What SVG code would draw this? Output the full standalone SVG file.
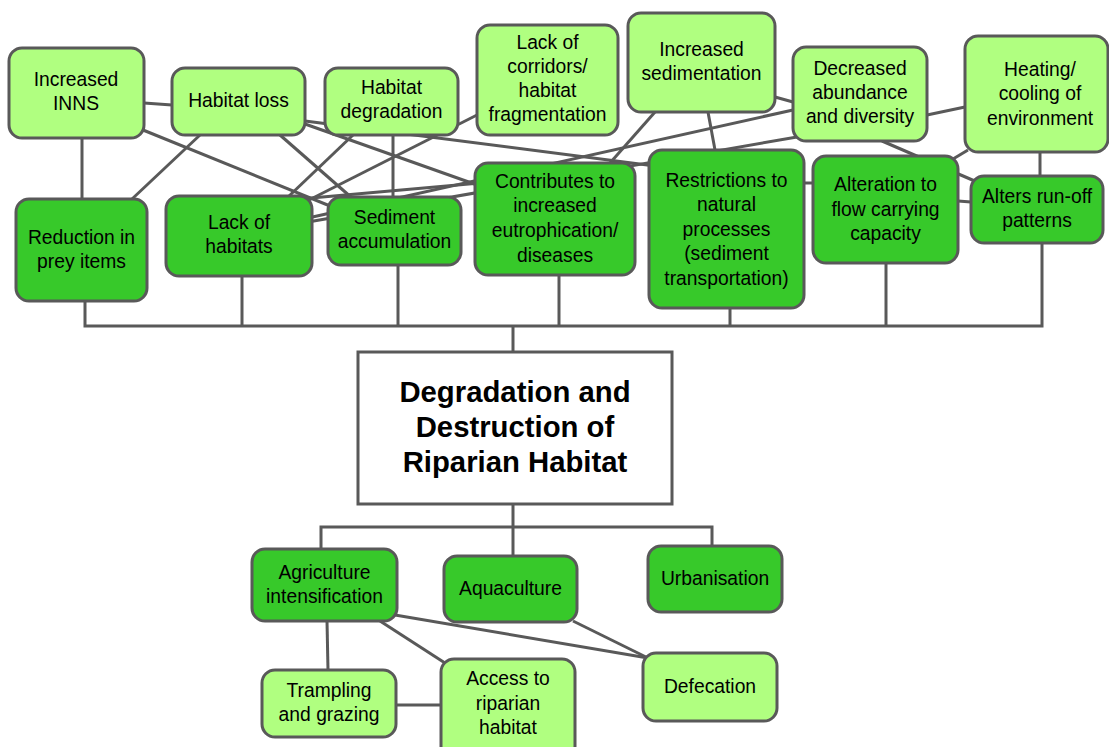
<svg xmlns="http://www.w3.org/2000/svg" width="1109" height="747" viewBox="0 0 1109 747">
<style>
.lt{fill:#b0ff80;stroke:#595959;stroke-width:3}
.dk{fill:#37c92a;stroke:#595959;stroke-width:3}
.ct{fill:#ffffff;stroke:#595959;stroke-width:3}
.c line,.c polyline{stroke:#595959;stroke-width:3;fill:none}
text{font-family:"Liberation Sans",Arial,sans-serif;font-size:19.3px;fill:#000;text-anchor:middle}
.t{font-weight:bold;font-size:29.3px}
</style>
<rect width="1109" height="747" fill="#ffffff"/>
<g id="connectors" class="c">
<line x1="144" y1="103" x2="172" y2="105"/>
<line x1="82" y1="138" x2="82" y2="199"/>
<line x1="143" y1="130" x2="335" y2="208"/>
<line x1="200" y1="135" x2="132" y2="199"/>
<line x1="280" y1="135" x2="352" y2="198"/>
<line x1="305" y1="124" x2="480" y2="186"/>
<line x1="305" y1="121" x2="655" y2="166"/>
<line x1="393" y1="135" x2="393" y2="197"/>
<line x1="353" y1="135" x2="288" y2="197"/>
<line x1="477" y1="115" x2="305" y2="202"/>
<line x1="300" y1="199" x2="480" y2="183"/>
<line x1="793" y1="110" x2="308" y2="218"/>
<line x1="797" y1="137" x2="308" y2="222"/>
<line x1="655" y1="112" x2="610" y2="163"/>
<line x1="708" y1="112" x2="715" y2="150"/>
<line x1="775" y1="97" x2="793" y2="102"/>
<line x1="927" y1="115" x2="965" y2="107"/>
<line x1="882" y1="141" x2="977" y2="182"/>
<line x1="968" y1="150" x2="953" y2="159"/>
<line x1="1040" y1="152" x2="1040" y2="176"/>
<line x1="958" y1="201" x2="971" y2="202"/>
<line x1="804" y1="183" x2="813" y2="183"/>
<polyline points="85,301 85,326 1042,326 1042,243"/>
<line x1="242" y1="276" x2="242" y2="326"/>
<line x1="398" y1="265" x2="398" y2="326"/>
<line x1="559" y1="275" x2="559" y2="326"/>
<line x1="730" y1="308" x2="730" y2="326"/>
<line x1="886" y1="263" x2="886" y2="326"/>
<line x1="513" y1="326" x2="513" y2="352"/>
<line x1="513" y1="504" x2="513" y2="556"/>
<polyline points="321,549 321,527 712,527 712,546"/>
<line x1="327" y1="621" x2="328" y2="670"/>
<line x1="380" y1="621" x2="445" y2="663"/>
<line x1="395" y1="615" x2="648" y2="658"/>
<line x1="573" y1="621" x2="648" y2="658"/>
<line x1="396" y1="705" x2="441" y2="705"/>
</g>
<g id="n-inns"><rect class="lt" x="9" y="48" width="135" height="90" rx="13"/><text x="76" y="85.5">Increased</text><text x="76" y="110">INNS</text></g>
<g id="n-habloss"><rect class="lt" x="172" y="68" width="133" height="67" rx="13"/><text x="238.5" y="106.5">Habitat loss</text></g>
<g id="n-habdeg"><rect class="lt" x="325" y="68" width="133" height="67" rx="13"/><text x="391.5" y="93.5">Habitat</text><text x="391.5" y="118">degradation</text></g>
<g id="n-corridors"><rect class="lt" x="477" y="25" width="141" height="110" rx="13"/><text x="547.5" y="48.5">Lack of</text><text x="547.5" y="72.5">corridors/</text><text x="547.5" y="96.5">habitat</text><text x="547.5" y="121">fragmentation</text></g>
<g id="n-incsed"><rect class="lt" x="628" y="13" width="147" height="99" rx="13"/><text x="701.5" y="55.5">Increased</text><text x="701.5" y="80">sedimentation</text></g>
<g id="n-decab"><rect class="lt" x="793" y="47" width="134" height="94" rx="13"/><text x="860" y="74.5">Decreased</text><text x="860" y="98.5">abundance</text><text x="860" y="123">and diversity</text></g>
<g id="n-heat"><rect class="lt" x="965" y="36" width="143" height="116" rx="13"/><text x="1040" y="75.5">Heating/</text><text x="1040" y="99.5">cooling of</text><text x="1040" y="124.5">environment</text></g>
<g id="n-prey"><rect class="dk" x="16" y="199" width="131" height="102" rx="13"/><text x="81.5" y="243.5">Reduction in</text><text x="81.5" y="268">prey items</text></g>
<g id="n-lackhab"><rect class="dk" x="166" y="196" width="146" height="80" rx="13"/><text x="239" y="228.5">Lack of</text><text x="239" y="253">habitats</text></g>
<g id="n-sedacc"><rect class="dk" x="328" y="197" width="133" height="68" rx="13"/><text x="394.5" y="223.5">Sediment</text><text x="394.5" y="247.5">accumulation</text></g>
<g id="n-eutro"><rect class="dk" x="475" y="163" width="160" height="112" rx="13"/><text x="555" y="187.5">Contributes to</text><text x="555" y="211.5">increased</text><text x="555" y="236.5">eutrophication/</text><text x="555" y="261.5">diseases</text></g>
<g id="n-restrict"><rect class="dk" x="649" y="150" width="155" height="158" rx="13"/><text x="726.5" y="186.5">Restrictions to</text><text x="726.5" y="210.5">natural</text><text x="726.5" y="235.5">processes</text><text x="726.5" y="259.5">(sediment</text><text x="726.5" y="284.5">transportation)</text></g>
<g id="n-flow"><rect class="dk" x="813" y="156" width="145" height="107" rx="13"/><text x="885.5" y="190.5">Alteration to</text><text x="885.5" y="215.5">flow carrying</text><text x="885.5" y="239.5">capacity</text></g>
<g id="n-runoff"><rect class="dk" x="971" y="176" width="132" height="67" rx="13"/><text x="1037" y="202.5">Alters run-off</text><text x="1037" y="226.5">patterns</text></g>
<g id="n-center"><rect class="ct" x="358" y="352" width="314" height="152"/><text class="t" x="515" y="402">Degradation and</text><text class="t" x="515" y="437">Destruction of</text><text class="t" x="515" y="472">Riparian Habitat</text></g>
<g id="n-agri"><rect class="dk" x="252" y="549" width="145" height="72" rx="13"/><text x="324.5" y="578.5">Agriculture</text><text x="324.5" y="602.5">intensification</text></g>
<g id="n-aqua"><rect class="dk" x="444" y="556" width="133" height="66" rx="13"/><text x="510.5" y="594.5">Aquaculture</text></g>
<g id="n-urban"><rect class="dk" x="648" y="546" width="134" height="66" rx="13"/><text x="715" y="584.5">Urbanisation</text></g>
<g id="n-trample"><rect class="lt" x="262" y="670" width="134" height="67" rx="13"/><text x="329" y="696.5">Trampling</text><text x="329" y="720.5">and grazing</text></g>
<g id="n-access"><rect class="lt" x="441" y="659" width="134" height="100" rx="13"/><text x="508" y="684.5">Access to</text><text x="508" y="709.5">riparian</text><text x="508" y="733.5">habitat</text></g>
<g id="n-defec"><rect class="lt" x="643" y="653" width="134" height="68" rx="13"/><text x="710" y="692.5">Defecation</text></g>
</svg>
